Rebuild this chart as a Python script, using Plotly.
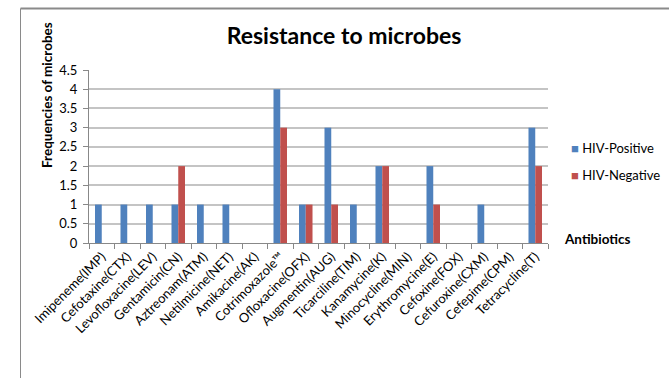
import plotly.graph_objects as go

# Antibiotics tested and the number of resistant isolates per group
antibiotics = [
    "Imipeneme(IMP)", "Cefotaxine(CTX)", "Levofloxacine(LEV)", "Gentamicin(CN)",
    "Aztreonam(ATM)", "Netilmicine(NET)", "Amikacine(AK)", "Cotrimoxazole™",
    "Ofloxacine(OFX)", "Augmentin(AUG)", "Ticarciline(TIM)", "Kanamycine(K)",
    "Minocycline(MIN)", "Erythromycine(E)", "Cefoxine(FOX)", "Cefuroxine(CXM)",
    "Cefepime(CPM)", "Tetracycline(T)",
]
hiv_positive = [1, 1, 1, 1, 1, 1, 0, 4, 1, 3, 1, 2, 0, 2, 0, 1, 0, 3]
hiv_negative = [0, 0, 0, 2, 0, 0, 0, 3, 1, 1, 0, 2, 0, 1, 0, 0, 0, 2]
y_ticks = [0, 0.5, 1, 1.5, 2, 2.5, 3, 3.5, 4, 4.5]
series = [("HIV-Positive", hiv_positive, "#4F81BD"),
          ("HIV-Negative", hiv_negative, "#C0504D")]

FONT = "Lato"

W, H = 669, 378
L, R, T, B = 89, 121, 70, 135
pw, ph = W - L - R, H - T - B


def px_x(px):
    return (px - L) / pw


def px_y(py):
    return (H - B - py) / ph


fig = go.Figure()
for name, vals, col in series:
    fig.add_trace(go.Bar(x=antibiotics, y=vals, name=name,
                         marker=dict(color=col, line_width=0)))

# legend drawn beside the plot: coloured key square plus series name
legend_notes = []
for i, (name, _, col) in enumerate(series):
    legend_notes.append(dict(
        text=f"<span style='color:{col}'>■</span> {name}",
        xref="paper", yref="paper", x=px_x(569), y=px_y(148 + 27 * i),
        xanchor="left", yanchor="middle", showarrow=False,
        font=dict(family=FONT, size=13, color="#000")))

fig.update_layout(
    width=W, height=H,
    margin=dict(l=L, r=R, t=T, b=B, pad=0, autoexpand=False),
    paper_bgcolor="white", plot_bgcolor="white",
    barmode="group", bargap=0.47, bargroupgap=0,
    showlegend=False,
    font=dict(family=FONT, size=13, color="#000"),
    title=dict(text="<b>Resistance to microbes</b>", x=344 / W,
               xanchor="center", y=1 - 36 / H, yanchor="middle",
               font=dict(family=FONT, size=23, color="#000")),
    xaxis=dict(
        type="category", tickangle=-45, tickson="boundaries",
        ticks="outside", ticklen=5, tickcolor="#888", tickwidth=1,
        showline=True, linecolor="#888", linewidth=1, automargin=False,
        showgrid=False, tickfont=dict(family=FONT, size=13, color="#000"),
    ),
    yaxis=dict(
        range=[0, 4.5], tickvals=y_ticks, ticktext=[f"{v:g}" for v in y_ticks],
        ticks="outside", ticklen=5, tickcolor="#888", tickwidth=1,
        ticklabelstandoff=3, automargin=False,
        showline=True, linecolor="#888", linewidth=1,
        showgrid=True, gridcolor="#c4c4c4", gridwidth=1.5,
        zeroline=False, tickfont=dict(family=FONT, size=13, color="#000"),
    ),
    shapes=[
        dict(type="line", xref="paper", yref="paper",
             x0=px_x(20.5), x1=px_x(700), y0=px_y(8.5), y1=px_y(8.5),
             line=dict(color="#8a8a8a", width=2)),
        dict(type="line", xref="paper", yref="paper",
             x0=px_x(20.5), x1=px_x(20.5), y0=px_y(8.5), y1=px_y(400),
             line=dict(color="#8a8a8a", width=1)),
    ],
    annotations=legend_notes + [
        dict(text="<b>Frequencies of microbes</b>", xref="paper", yref="paper",
             x=px_x(47), y=px_y(95), textangle=-90, showarrow=False,
             xanchor="center", yanchor="middle",
             font=dict(family=FONT, size=13.5, color="#000")),
        dict(text="<b>Antibiotics</b>", xref="paper", yref="paper",
             x=px_x(562), y=px_y(239), showarrow=False,
             xanchor="left", yanchor="middle",
             font=dict(family=FONT, size=13.5, color="#000")),
    ],
)

fig.write_html("out.html")
